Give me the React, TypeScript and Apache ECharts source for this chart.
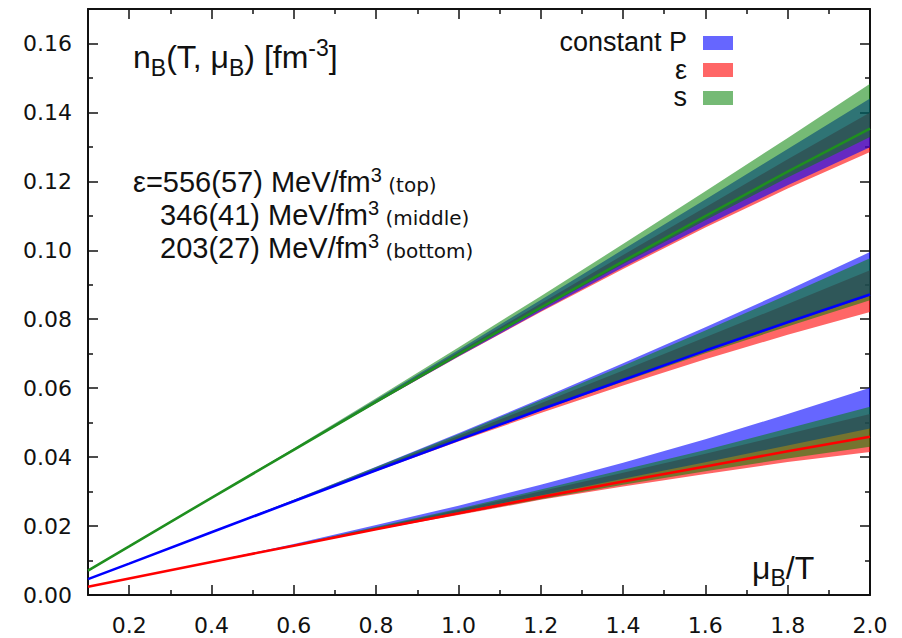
import React, { useEffect, useRef } from 'react';
import * as echarts from 'echarts';

// mu_B/T sample points
const X = [0.1, 0.2, 0.4, 0.6, 0.8, 1.0, 1.2, 1.4, 1.6, 1.8, 2.0];

// top group: eps = 556(57) MeV/fm^3
const topLine = [0.0071, 0.0141, 0.0282, 0.0421, 0.0560, 0.0698, 0.0834, 0.0968, 0.1099, 0.1228, 0.1353];
const topPLo = [0.0071, 0.0141, 0.0282, 0.0420, 0.0557, 0.0692, 0.0823, 0.0951, 0.1072, 0.1189, 0.1299];
const topPHi = [0.0071, 0.0141, 0.0283, 0.0424, 0.0567, 0.0711, 0.0856, 0.1002, 0.1147, 0.1294, 0.1440];
const topELo = [0.0071, 0.0141, 0.0282, 0.0420, 0.0557, 0.0691, 0.0821, 0.0946, 0.1066, 0.1179, 0.1285];
const topEHi = [0.0071, 0.0141, 0.0282, 0.0423, 0.0564, 0.0705, 0.0846, 0.0986, 0.1125, 0.1264, 0.1400];
const topSLo = [0.0071, 0.0141, 0.0282, 0.0421, 0.0559, 0.0695, 0.0829, 0.0960, 0.1087, 0.1211, 0.1329];
const topSHi = [0.0071, 0.0141, 0.0283, 0.0426, 0.0571, 0.0718, 0.0867, 0.1018, 0.1171, 0.1326, 0.1483];

// middle group: 346(41) MeV/fm^3
const midLine = [0.0046, 0.0091, 0.0182, 0.0272, 0.0362, 0.0450, 0.0538, 0.0624, 0.0709, 0.0791, 0.0872];
const midPLo = [0.0046, 0.0091, 0.0182, 0.0272, 0.0362, 0.0450, 0.0537, 0.0623, 0.0707, 0.0788, 0.0868];
const midPHi = [0.0046, 0.0091, 0.0183, 0.0276, 0.0372, 0.0469, 0.0569, 0.0672, 0.0777, 0.0884, 0.0995];
const midELo = [0.0046, 0.0091, 0.0182, 0.0271, 0.0359, 0.0445, 0.0528, 0.0608, 0.0684, 0.0755, 0.0821];
const midEHi = [0.0046, 0.0091, 0.0183, 0.0274, 0.0368, 0.0461, 0.0556, 0.0651, 0.0748, 0.0844, 0.0942];
const midSLo = [0.0046, 0.0091, 0.0182, 0.0272, 0.0361, 0.0448, 0.0535, 0.0619, 0.0701, 0.0779, 0.0855];
const midSHi = [0.0046, 0.0091, 0.0183, 0.0276, 0.0371, 0.0466, 0.0565, 0.0665, 0.0767, 0.0871, 0.0977];

// bottom group: 203(27) MeV/fm^3
const botLine = [0.0024, 0.0048, 0.0096, 0.0143, 0.0191, 0.0237, 0.0284, 0.0329, 0.0373, 0.0417, 0.0459];
const botPLo = [0.0024, 0.0048, 0.0096, 0.0143, 0.0192, 0.0240, 0.0289, 0.0337, 0.0385, 0.0434, 0.0483];
const botPHi = [0.0024, 0.0048, 0.0097, 0.0148, 0.0203, 0.0259, 0.0320, 0.0384, 0.0452, 0.0525, 0.0601];
const botELo = [0.0024, 0.0048, 0.0096, 0.0142, 0.0189, 0.0232, 0.0276, 0.0315, 0.0351, 0.0386, 0.0415];
const botEHi = [0.0024, 0.0048, 0.0097, 0.0145, 0.0196, 0.0247, 0.0301, 0.0355, 0.0410, 0.0467, 0.0525];
const botSLo = [0.0024, 0.0048, 0.0096, 0.0142, 0.0190, 0.0234, 0.0278, 0.0320, 0.0359, 0.0396, 0.0430];
const botSHi = [0.0024, 0.0048, 0.0097, 0.0146, 0.0198, 0.0250, 0.0306, 0.0363, 0.0421, 0.0483, 0.0546];

// ticks
const xMajorTicks = [0.2, 0.4, 0.6, 0.8, 1.0, 1.2, 1.4, 1.6, 1.8, 2.0];
const xMinorTicks = [0.3, 0.5, 0.7, 0.9, 1.1, 1.3, 1.5, 1.7, 1.9];
const yMajorTicks = [0, 0.02, 0.04, 0.06, 0.08, 0.1, 0.12, 0.14, 0.16];
const yMinorTicks = [0.01, 0.03, 0.05, 0.07, 0.09, 0.11, 0.13, 0.15];

const legendNames = ['constant P', 'ε', 's'];
const annotationValues = ['ε=556(57) MeV/fm', '346(41) MeV/fm', '203(27) MeV/fm'];
const annotationTags = [' (top)', ' (middle)', ' (bottom)'];

const RED = 'rgba(255,0,0,0.6)';
const BLUE = 'rgba(0,0,255,0.6)';
const GREEN = 'rgba(0,128,0,0.54)';

const SANS = '"Liberation Sans", Arial, sans-serif';
const DEJAVU = '"DejaVu Sans", sans-serif';

// bands in drawing order: eps (red), constant P (blue), s (green)
const bands = [
  { lo: topELo, hi: topEHi, color: RED },
  { lo: midELo, hi: midEHi, color: RED },
  { lo: botELo, hi: botEHi, color: RED },
  { lo: topPLo, hi: topPHi, color: BLUE },
  { lo: midPLo, hi: midPHi, color: BLUE },
  { lo: botPLo, hi: botPHi, color: BLUE },
  { lo: topSLo, hi: topSHi, color: GREEN },
  { lo: midSLo, hi: midSHi, color: GREEN },
  { lo: botSLo, hi: botSHi, color: GREEN },
];

let measureCtx: CanvasRenderingContext2D | null = null;
function measure(text: string, font: string): number {
  if (!measureCtx) measureCtx = document.createElement('canvas').getContext('2d');
  measureCtx!.font = font;
  return measureCtx!.measureText(text).width;
}

type Piece = { t: string; size: number; family: string; dy: number };
function textRun(x: number, baseline: number, pieces: Piece[]) {
  const els: any[] = [];
  let cx = x;
  for (const p of pieces) {
    const font = `${p.size}px ${p.family}`;
    els.push({
      type: 'text',
      x: cx,
      y: baseline + p.dy - 0.346 * p.size,
      z: 100,
      style: { text: p.t, font, fill: '#111', textAlign: 'left', textVerticalAlign: 'middle', verticalAlign: 'middle' },
    });
    cx += measure(p.t, font);
  }
  return els;
}

function centerLine(vals: number[], color: string) {
  return {
    type: 'line',
    data: X.map((x, i) => [x, vals[i]]),
    symbol: 'none',
    silent: true,
    lineStyle: { color, width: 2.6 },
    z: 5,
  };
}

export default function App() {
  const ref = useRef<HTMLDivElement>(null);
  useEffect(() => {
    document.body.style.margin = '0';
    const chart = echarts.init(ref.current!, null, { renderer: 'svg' });

    const tickStyle = { color: '#111', width: 1.5 };
    const lineStyle = { color: '#111', width: 2 };
    const xBase = { type: 'value', min: 0.1, max: 2.0, splitLine: { show: false } };
    const yBase = { type: 'value', min: 0, max: 0.17, splitLine: { show: false } };

    const xAxis = [
      {
        ...xBase,
        position: 'bottom',
        axisLine: { show: true, onZero: false, lineStyle },
        axisTick: { show: true, inside: true, length: 10, customValues: xMajorTicks, lineStyle: tickStyle },
        axisLabel: {
          show: true,
          customValues: xMajorTicks,
          formatter: (v: number) => v.toFixed(1),
          margin: 19,
          fontSize: 22,
          fontFamily: DEJAVU,
          color: '#111',
        },
      },
      {
        ...xBase,
        position: 'bottom',
        axisLine: { show: false, onZero: false },
        axisTick: { show: true, inside: true, length: 5, customValues: xMinorTicks, lineStyle: tickStyle },
        axisLabel: { show: false },
      },
      {
        ...xBase,
        position: 'top',
        axisLine: { show: true, onZero: false, lineStyle },
        axisTick: { show: true, inside: true, length: 10, customValues: xMajorTicks, lineStyle: tickStyle },
        axisLabel: { show: false },
      },
      {
        ...xBase,
        position: 'top',
        axisLine: { show: false, onZero: false },
        axisTick: { show: true, inside: true, length: 5, customValues: xMinorTicks, lineStyle: tickStyle },
        axisLabel: { show: false },
      },
    ];

    const yAxis = [
      {
        ...yBase,
        position: 'left',
        axisLine: { show: true, onZero: false, lineStyle },
        axisTick: { show: true, inside: true, length: 10, customValues: yMajorTicks, lineStyle: tickStyle },
        axisLabel: {
          show: true,
          customValues: yMajorTicks,
          formatter: (v: number) => v.toFixed(2),
          margin: 16,
          fontSize: 22,
          fontFamily: DEJAVU,
          color: '#111',
        },
      },
      {
        ...yBase,
        position: 'left',
        axisLine: { show: false, onZero: false },
        axisTick: { show: true, inside: true, length: 5, customValues: yMinorTicks, lineStyle: tickStyle },
        axisLabel: { show: false },
      },
      {
        ...yBase,
        position: 'right',
        axisLine: { show: true, onZero: false, lineStyle },
        axisTick: { show: true, inside: true, length: 10, customValues: yMajorTicks, lineStyle: tickStyle },
        axisLabel: { show: false },
      },
      {
        ...yBase,
        position: 'right',
        axisLine: { show: false, onZero: false },
        axisTick: { show: true, inside: true, length: 5, customValues: yMinorTicks, lineStyle: tickStyle },
        axisLabel: { show: false },
      },
    ];

    const bandSeries = {
      type: 'custom',
      silent: true,
      clip: true,
      z: 2,
      encode: { x: 0, y: 1 },
      data: bands.map((b, i) => [X[0], b.lo[0], i]),
      renderItem: (params: any, api: any) => {
        const b = bands[params.dataIndex];
        const upper = X.map((x, i) => api.coord([x, b.hi[i]]));
        const lower = X.map((x, i) => api.coord([x, b.lo[i]])).reverse();
        return {
          type: 'polygon',
          shape: { points: upper.concat(lower) },
          style: { fill: b.color, stroke: 'none' },
        };
      },
    };

    const series: any[] = [
      bandSeries,
      centerLine(topLine, '#1f8f1f'),
      centerLine(midLine, '#0000ff'),
      centerLine(botLine, '#ff0000'),
    ];

    const graphic: any[] = [];
    // title n_B(T, mu_B) [fm^-3]
    graphic.push(
      ...textRun(133, 68, [
        { t: 'n', size: 32, family: SANS, dy: 0 },
        { t: 'B', size: 23, family: SANS, dy: 8 },
        { t: '(T, μ', size: 32, family: SANS, dy: 0 },
        { t: 'B', size: 23, family: SANS, dy: 8 },
        { t: ') [fm', size: 32, family: SANS, dy: 0 },
        { t: '-3', size: 23, family: SANS, dy: -12 },
        { t: ']', size: 32, family: SANS, dy: 0 },
      ])
    );
    // annotations
    const annX = [133, 160, 160];
    const annBase = [192, 225, 258];
    annotationValues.forEach((v, i) => {
      graphic.push(
        ...textRun(annX[i], annBase[i], [
          { t: v, size: 29, family: SANS, dy: 0 },
          { t: '3', size: 20, family: SANS, dy: -10 },
          { t: annotationTags[i], size: 20, family: DEJAVU, dy: 0 },
        ])
      );
    });
    // x axis title
    graphic.push(
      ...textRun(752, 579, [
        { t: 'μ', size: 32, family: SANS, dy: 0 },
        { t: 'B', size: 23, family: SANS, dy: 7 },
        { t: '/T', size: 32, family: SANS, dy: 0 },
      ])
    );
    // legend: one right-aligned multi-line text block plus swatches
    const legendColors = [BLUE, RED, GREEN];
    const swatchY = [36, 63, 91];
    graphic.push({
      type: 'text',
      x: 687,
      y: 69.5,
      z: 100,
      style: {
        text: legendNames.join('\n'),
        font: `27px ${SANS}`,
        lineHeight: 27.5,
        fill: '#111',
        textAlign: 'right',
        textVerticalAlign: 'middle',
        verticalAlign: 'middle',
      },
    });
    legendNames.forEach((_, i) => {
      graphic.push({
        type: 'rect',
        z: 100,
        shape: { x: 703, y: swatchY[i], width: 30, height: 14 },
        style: { fill: legendColors[i] },
      });
    });

    chart.setOption({
      animation: false,
      backgroundColor: '#fff',
      grid: { left: 88, right: 32, top: 9, bottom: 43, containLabel: false },
      xAxis,
      yAxis,
      series,
      graphic,
    });
    return () => chart.dispose();
  }, []);
  return (
    <div
      ref={ref}
      style={{ position: 'absolute', left: 0, top: 0, width: 902, height: 638, background: '#fff' }}
    />
  );
}
